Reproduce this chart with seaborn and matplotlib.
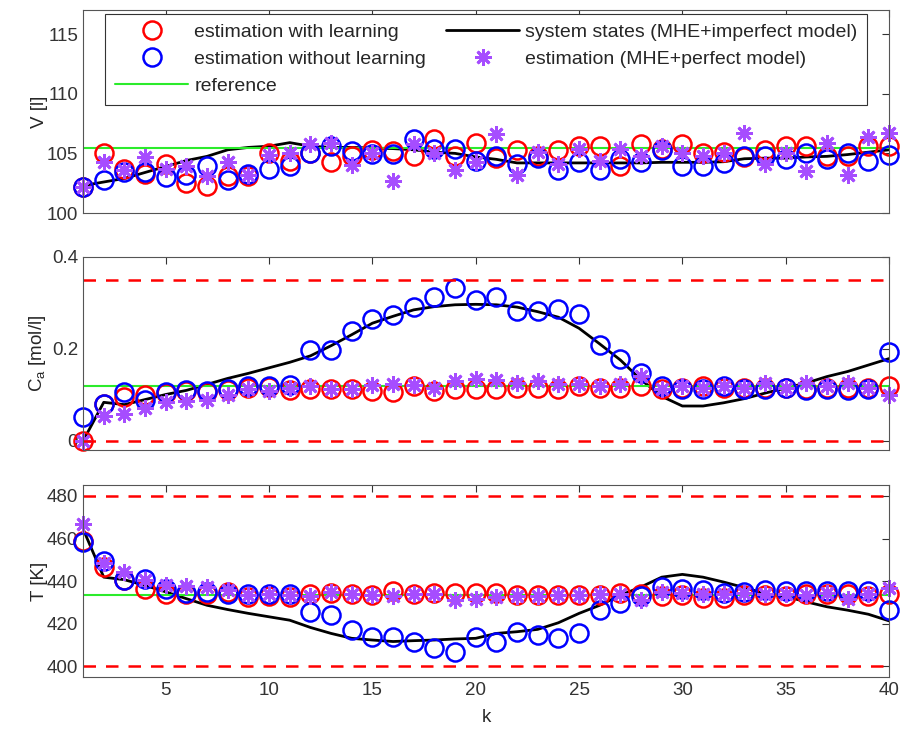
import numpy as np
import pandas as pd
import matplotlib
matplotlib.use("Agg")
import matplotlib.pyplot as plt
import seaborn as sns

# time steps
k = list(range(1, 41))

# V [l]
V_learn = [102.2, 105.0, 103.7, 103.3, 104.1, 102.5, 102.3, 103.1, 103.1, 105.0,
           104.4, 105.0, 104.3, 104.8, 105.3, 105.2, 104.75, 106.2, 104.8, 105.9,
           104.6, 105.25, 104.75, 105.25, 105.6, 105.6, 103.9, 105.8, 105.4, 105.8,
           105.0, 105.1, 104.7, 105.3, 105.6, 105.6, 104.75, 104.8, 105.6, 105.6]
V_nolearn = [102.2, 102.8, 103.45, 103.45, 103.0, 103.2, 103.9, 102.8, 103.3, 103.7,
             103.9, 105.0, 105.6, 105.2, 104.95, 104.95, 106.2, 105.4, 105.4, 104.4,
             104.75, 104.1, 104.6, 103.6, 104.3, 103.6, 104.55, 104.3, 105.3, 103.9,
             103.9, 104.2, 104.8, 104.8, 104.5, 105.0, 104.5, 105.0, 104.4, 104.9]
V_perfect = [102.2, 104.3, 103.6, 104.7, 103.7, 103.9, 103.1, 104.3, 103.15, 104.9,
             105.0, 105.8, 105.9, 104.0, 105.0, 102.7, 105.8, 105.0, 103.6, 104.3,
             106.6, 103.2, 105.15, 104.1, 105.4, 104.4, 105.4, 104.8, 105.6, 105.0,
             104.8, 105.0, 106.7, 104.1, 105.0, 103.5, 105.9, 103.2, 106.4, 106.7]
V_states = [102.3, 102.6, 102.9, 103.4, 103.9, 104.4, 104.75, 105.3, 105.5, 105.6,
            105.9, 105.6, 105.5, 105.5, 105.45, 105.4, 105.3, 105.1, 105.0, 104.7,
            104.5, 104.2, 104.2, 104.2, 104.2, 104.2, 104.2, 104.2, 104.25, 104.25,
            104.25, 104.3, 104.55, 104.6, 104.6, 104.7, 104.75, 104.9, 105.1, 105.3]
V_ref = 105.45

# C_a [mol/l]
Ca_learn = [0.0, 0.08, 0.096, 0.10, 0.105, 0.109, 0.107, 0.111, 0.116, 0.117,
            0.111, 0.113, 0.112, 0.112, 0.108, 0.106, 0.119, 0.108, 0.112, 0.113,
            0.112, 0.115, 0.115, 0.113, 0.119, 0.115, 0.115, 0.119, 0.112, 0.115,
            0.119, 0.115, 0.115, 0.115, 0.115, 0.112, 0.115, 0.115, 0.115, 0.12]
Ca_nolearn = [0.052, 0.080, 0.106, 0.090, 0.106, 0.110, 0.108, 0.113, 0.119, 0.120,
              0.121, 0.198, 0.198, 0.239, 0.265, 0.274, 0.291, 0.314, 0.332, 0.307,
              0.312, 0.283, 0.283, 0.286, 0.277, 0.209, 0.178, 0.148, 0.119, 0.112,
              0.112, 0.119, 0.113, 0.113, 0.115, 0.110, 0.112, 0.110, 0.112, 0.193]
Ca_perfect = [0.0, 0.054, 0.058, 0.072, 0.084, 0.086, 0.090, 0.101, 0.112, 0.108,
              0.115, 0.119, 0.113, 0.113, 0.121, 0.123, 0.121, 0.115, 0.130, 0.135,
              0.132, 0.126, 0.130, 0.123, 0.123, 0.119, 0.123, 0.141, 0.112, 0.119,
              0.115, 0.119, 0.115, 0.125, 0.115, 0.126, 0.119, 0.126, 0.115, 0.101]
Ca_states = [0.0, 0.084, 0.079, 0.090, 0.101, 0.110, 0.123, 0.136, 0.147, 0.159,
             0.171, 0.185, 0.207, 0.231, 0.256, 0.271, 0.285, 0.292, 0.296, 0.297,
             0.296, 0.291, 0.281, 0.269, 0.245, 0.211, 0.176, 0.133, 0.097, 0.076,
             0.076, 0.083, 0.092, 0.104, 0.115, 0.126, 0.140, 0.151, 0.165, 0.179]
Ca_ref = 0.119
Ca_bounds = [0.0, 0.35]

# T [K]
T_learn = [459.0, 446.9, 440.7, 436.5, 434.2, 433.9, 434.2, 435.0, 432.6, 432.9,
           432.6, 434.2, 434.5, 434.2, 433.4, 435.4, 434.2, 434.5, 434.5, 434.7,
           434.5, 433.4, 433.4, 433.4, 433.4, 433.4, 434.5, 433.9, 432.9, 433.4,
           432.3, 432.3, 433.4, 433.4, 432.9, 433.9, 434.2, 433.9, 432.9, 434.2]
T_nolearn = [458.3, 449.7, 440.7, 441.2, 436.5, 434.5, 435.0, 433.9, 433.9, 433.9,
             433.9, 425.6, 424.1, 417.1, 413.7, 414.0, 411.7, 408.5, 407.0, 414.0,
             411.7, 416.3, 414.8, 413.2, 415.5, 426.7, 429.8, 432.9, 437.3, 436.5,
             435.7, 434.5, 435.0, 435.7, 435.4, 435.4, 435.4, 435.4, 435.4, 426.4]
T_perfect = [466.8, 448.5, 444.3, 440.4, 438.0, 437.6, 437.3, 435.7, 433.4, 433.9,
             433.4, 432.9, 435.0, 434.2, 433.4, 432.9, 433.9, 433.9, 431.4, 431.8,
             432.6, 432.9, 432.9, 433.4, 433.4, 433.9, 434.2, 431.1, 435.0, 434.7,
             433.9, 433.9, 434.7, 433.9, 433.9, 433.4, 434.5, 431.8, 433.9, 437.0]
T_states = [464.5, 441.9, 440.7, 438.0, 435.0, 431.8, 428.7, 426.7, 424.9, 423.3,
            421.7, 418.3, 415.5, 413.2, 412.4, 411.7, 412.1, 412.4, 412.9, 413.2,
            415.5, 416.3, 417.4, 420.5, 424.9, 428.7, 433.4, 437.3, 441.9, 443.2,
            441.9, 439.6, 437.0, 434.2, 432.9, 430.3, 428.0, 426.4, 424.5, 421.4]
T_ref = 433.5
T_bounds = [400, 480]

sns.set_theme(style="white")
plt.rcParams['font.family'] = ['Liberation Sans', 'DejaVu Sans']
plt.rcParams['mathtext.fontset'] = 'custom'
plt.rcParams['mathtext.rm'] = 'Liberation Sans'
plt.rcParams['mathtext.it'] = 'Liberation Sans:italic'
plt.rcParams['font.size'] = 13
plt.rcParams['axes.edgecolor'] = '#555555'
plt.rcParams['axes.linewidth'] = 0.8
plt.rcParams['xtick.color'] = '#333333'
plt.rcParams['ytick.color'] = '#333333'
plt.rcParams['xtick.labelsize'] = 13.5
plt.rcParams['ytick.labelsize'] = 13.5

purple = '#A64DFF'
green = '#2BEB2B'
txt = '#262626'

fig = plt.figure(figsize=(9.03, 7.32), dpi=100)
ax1 = fig.add_axes([0.092, 0.709, 0.8925, 0.277])
ax2 = fig.add_axes([0.092, 0.385, 0.8925, 0.264])
ax3 = fig.add_axes([0.092, 0.075, 0.8925, 0.262])

panels = [
    (ax1, V_learn, V_nolearn, V_perfect, V_states, V_ref, None, (100, 117), [100, 105, 110, 115], 'V [l]'),
    (ax2, Ca_learn, Ca_nolearn, Ca_perfect, Ca_states, Ca_ref, Ca_bounds, (-0.02, 0.4), [0, 0.2, 0.4], 'C$_\\mathrm{a}$ [mol/l]'),
    (ax3, T_learn, T_nolearn, T_perfect, T_states, T_ref, T_bounds, (395, 485), [400, 420, 440, 460, 480], 'T [K]'),
]

handles = {}
for ax, learn, nolearn, perfect, states, ref, bounds, ylim, yticks, ylab in panels:
    df = pd.DataFrame({'k': k, 'learn': learn, 'nolearn': nolearn,
                       'perfect': perfect, 'states': states})
    sns.lineplot(data=df, x='k', y='states', color='black', lw=2, ax=ax,
                 label='system states (MHE+imperfect model)')
    ax.axhline(ref, color=green, lw=1.5, label='reference')
    sns.lineplot(data=df, x='k', y='learn', ls='', marker='o', ms=13, clip_on=False,
                 mfc='none', mec='red', mew=1.8, ax=ax, label='estimation with learning')
    sns.lineplot(data=df, x='k', y='nolearn', ls='', marker='o', ms=13, clip_on=False,
                 mfc='none', mec='blue', mew=1.8, ax=ax, label='estimation without learning')
    sns.lineplot(data=df, x='k', y='perfect', ls='', marker=(8, 2, 0), ms=12, clip_on=False,
                 mec=purple, mew=2, ax=ax, label='estimation (MHE+perfect model)')
    if bounds is not None:
        for b in bounds:
            ax.axhline(b, color='red', ls=(0, (5, 4)), lw=1.8)
    ax.set_xlim(1, 40)
    ax.set_ylim(*ylim)
    ax.set_yticks(yticks)
    ax.set_xticks([5, 10, 15, 20, 25, 30, 35, 40])
    ax.set_ylabel(ylab, fontsize=13.5, color=txt)
    ax.set_xlabel('')
    ax.tick_params(direction='in', top=True, right=True, length=5, width=0.8)
    if ax is not ax3:
        ax.set_xticklabels([])
    if ax.get_legend():
        ax.get_legend().remove()
    if ax is ax1:
        h, l = ax.get_legend_handles_labels()
        handles = dict(zip(l, h))

ax3.set_yticklabels(['400', '420', '440', '460', '480'])
ax2.set_yticklabels(['0', '0.2', '0.4'])
ax3.set_xlabel('k', fontsize=13.5, labelpad=7, color=txt)
for ax in (ax1, ax2, ax3):
    ax.yaxis.set_label_coords(-0.043, 0.5)

order = ['estimation with learning', 'estimation without learning', 'reference',
         'system states (MHE+imperfect model)', 'estimation (MHE+perfect model)']
leg = ax1.legend([handles[o] for o in order], order, ncol=2, loc='upper left',
                 bbox_to_anchor=(0.027, 0.982), borderaxespad=0, fancybox=False,
                 framealpha=1, edgecolor='#333333', fontsize=14, handlelength=3.8,
                 handletextpad=0.3, columnspacing=1.0, borderpad=0.5, labelspacing=0.48)
leg.get_frame().set_linewidth(0.8)
leg.set_zorder(5)
for t in leg.get_texts():
    t.set_color(txt)

fig.savefig('out.png', dpi=100)
